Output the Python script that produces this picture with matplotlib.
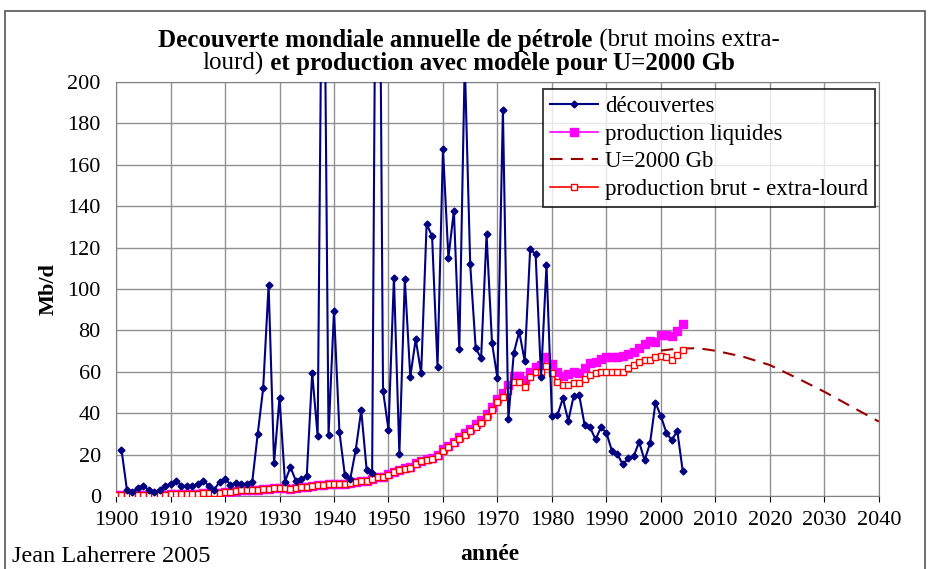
import numpy as np
import matplotlib.pyplot as plt
from matplotlib.patches import Rectangle

plt.rcParams['font.family'] = ['Liberation Serif', 'DejaVu Serif']

# discoveries (Mb/d), 1901-2004
disc_years = list(range(1901, 2005))
discoveries = [22.5, 3, 2, 4, 5, 3, 2, 3, 5, 6,
               7.5, 5, 5, 5, 6, 7.5, 5, 3, 7, 8.5,
               5.5, 6.5, 6, 6, 7, 30, 52, 102, 16, 47.5,
               7, 14, 7.5, 8.5, 9.6, 59.5, 29, 330, 29.5, 89.5,
               31, 10, 8.5, 22.5, 41.5, 12.5, 11, 420, 51, 32,
               105.5, 20.3, 104.8, 57.6, 75.8, 59.3, 131.4, 125.6, 62.5, 167.5,
               115.1, 137.8, 70.9, 210, 111.9, 71.6, 66.5, 126.4, 74, 56.9,
               186.5, 37.2, 69.2, 79.4, 65.2, 119.2, 116.9, 57.6, 111.6, 38.6,
               39.1, 47.2, 36.4, 48.5, 48.8, 34.3, 33.2, 27.4, 33.2, 30.6,
               21.9, 20.3, 15.3, 18.2, 19.3, 26.2, 17.3, 25.5, 45.1, 38.6,
               30.6, 27, 31.6, 12.2]

# production, 1900-2004
prod_years = list(range(1900, 2005))
prod_liquids = [0.4, 0.5, 0.5, 0.5, 0.6, 0.6, 0.6, 0.7, 0.8, 0.8,
                0.9, 0.9, 0.9, 1.0, 1.1, 1.2, 1.3, 1.4, 1.4, 1.5,
                1.9, 2.1, 2.3, 2.8, 2.8, 2.9, 3.0, 3.5, 3.6, 4.1,
                3.8, 3.8, 3.5, 3.9, 4.2, 4.5, 4.9, 5.6, 5.5, 5.7,
                5.9, 6.1, 5.7, 6.2, 7.0, 7.1, 7.5, 8.3, 9.3, 9.3,
                10.6, 11.9, 12.6, 13.4, 14.0, 15.8, 17.2, 18.0, 18.6, 20.1,
                22.6, 24.2, 26.3, 28.4, 30.5, 32.6, 34.7, 36.8, 39.8, 43.0,
                47.0, 50.0, 53.5, 58.0, 58.0, 56.0, 60.0, 62.5, 63.5, 67.0,
                63.6, 60.1, 58.0, 59.0, 60.0, 59.6, 61.7, 64.1, 64.9, 66.0,
                67.0, 67.0, 67.3, 67.6, 68.6, 69.7, 71.3, 73.7, 75.0, 74.5,
                77.8, 77.8, 77.3, 79.9, 83.0]
prod_crude = [0.4, 0.5, 0.5, 0.5, 0.6, 0.6, 0.6, 0.7, 0.8, 0.8,
              0.9, 0.9, 0.9, 1.0, 1.1, 1.2, 1.3, 1.4, 1.4, 1.5,
              1.9, 2.1, 2.3, 2.8, 2.8, 2.9, 3.0, 3.5, 3.6, 4.1,
              3.8, 3.8, 3.5, 3.9, 4.2, 4.5, 4.9, 5.6, 5.5, 5.7,
              5.9, 6.1, 5.7, 6.2, 7.0, 7.1, 7.5, 8.3, 9.3, 9.3,
              10.4, 11.7, 12.4, 13.1, 13.7, 15.4, 16.8, 17.6, 18.1, 19.5,
              22.0, 23.5, 25.5, 27.5, 29.5, 31.5, 33.5, 35.3, 38.3, 41.5,
              45.6, 48.0, 50.9, 55.2, 55.2, 52.8, 57.6, 60.1, 60.1, 62.8,
              59.3, 55.2, 53.6, 53.6, 54.4, 54.4, 56.4, 58.4, 59.3, 60.1,
              60.1, 60.1, 60.1, 60.1, 61.7, 63.3, 64.9, 65.7, 65.7, 67.3,
              67.6, 67.3, 65.7, 68.1, 70.5]

# model U=2000 Gb
model_years = [2000, 2002, 2004, 2006, 2008, 2010, 2015, 2020, 2025, 2030, 2035, 2040]
model_u2000 = [70.3, 70.9, 71.3, 71.4, 71.0, 70.2, 67.4, 63.3, 57.0, 50.4, 43.2, 36.0]

fig = plt.figure(figsize=(9.32, 5.69), dpi=100)
ax = fig.add_axes([0.1245, 0.128, 0.8185, 0.728])

ax.plot(disc_years, discoveries, color='#000080', lw=1.5, marker='D', ms=3.5,
        label='découvertes', zorder=5)
ax.plot(prod_years, prod_liquids, color='#ff00ff', lw=1.2, marker='s', ms=5.5,
        label='production liquides', zorder=3)
ax.plot(model_years, model_u2000, color='#990000', lw=1.5, ls=(0, (6, 4)),
        label='U=2000 Gb', zorder=4)
ax.plot(prod_years, prod_crude, color='#ff0000', lw=1.2, marker='s', ms=4.5,
        mfc='white', mew=1, label='production brut - extra-lourd', zorder=4)

ax.set_xlim(1900, 2040)
ax.set_ylim(0, 200)
ax.set_xticks(range(1900, 2041, 10))
ax.set_yticks(range(0, 201, 20))
ax.grid(True, color='#909090', lw=1)
ax.set_axisbelow(True)
for s in ax.spines.values():
    s.set_color('#808080')
ax.tick_params(labelsize=16, colors='black', length=4, pad=7)
ax.tick_params(axis='y', length=0, pad=11)

ax.set_ylabel('Mb/d', fontsize=16, fontweight='bold', labelpad=6)
ax.set_xlabel('année', fontsize=17, fontweight='bold', labelpad=8)
ax.xaxis.set_label_coords(0.49, -0.115)

leg = ax.legend(loc='upper right', bbox_to_anchor=(0.995, 0.982), fontsize=16.5,
                frameon=True, fancybox=False, edgecolor='black', handlelength=2.1,
                borderpad=0.3, labelspacing=0.28, handletextpad=0.3, borderaxespad=0)
leg.get_frame().set_linewidth(1.3)

fig.text(0.013, 0.012, 'Jean Laherrere 2005', fontsize=17.5)

# title with mixed weights
def mixed_line(parts, y, size=18):
    r = fig.canvas.get_renderer()
    texts, widths = [], []
    for s, w in parts:
        t = fig.text(0, y, s, fontsize=size, fontweight=w, va='baseline')
        texts.append(t)
        widths.append(t.get_window_extent(r).width / fig.bbox.width)
    x = 0.503 - sum(widths) / 2
    for t, wd in zip(texts, widths):
        t.set_x(x)
        x += wd

mixed_line([('Decouverte mondiale annuelle de pétrole', 'bold'),
            (' (brut moins extra-', 'normal')], 0.918)
mixed_line([('lourd)', 'normal'),
            (' et production avec modèle pour U=2000 Gb', 'bold')], 0.877)

fig.patches.append(Rectangle((0.005, -0.01), 0.988, 0.99, transform=fig.transFigure,
                             fill=False, edgecolor='#555555', lw=1.2))

fig.savefig('out.png', dpi=100)
